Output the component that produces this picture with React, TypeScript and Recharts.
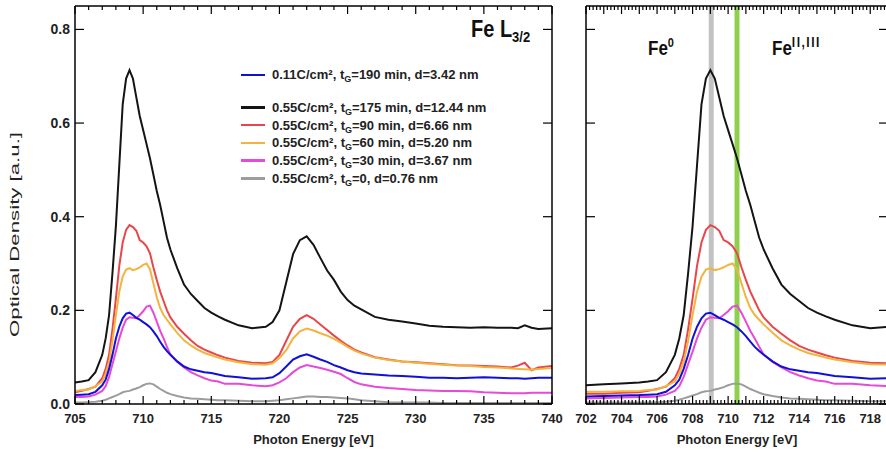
import { LineChart, Line, XAxis, YAxis, ReferenceLine } from 'recharts';

// photon energy grid [eV]
const energy = [
  702, 703, 704, 705, 705.5, 706, 706.5, 707, 707.25, 707.5, 707.75, 708, 708.25, 708.5, 708.75,
  709, 709.25, 709.5, 709.75, 710, 710.25, 710.5, 710.75, 711, 711.25, 711.5, 711.75, 712, 712.5,
  713, 713.5, 714, 714.5, 715, 715.5, 716, 717, 718, 719, 719.5, 720, 720.5, 721, 721.5, 722,
  722.5, 723, 723.5, 724, 724.5, 725, 725.5, 726, 727, 728, 729, 730, 731, 732, 733, 734, 735,
  736, 737, 737.5, 738, 738.5, 739, 740,
];

const t175 = [
  0.04, 0.042, 0.044, 0.046, 0.048, 0.051, 0.068, 0.105, 0.14, 0.19, 0.28, 0.38, 0.51, 0.64, 0.695,
  0.713, 0.695, 0.655, 0.615, 0.585, 0.555, 0.525, 0.49, 0.455, 0.425, 0.39, 0.355, 0.33, 0.29,
  0.255, 0.235, 0.22, 0.205, 0.195, 0.187, 0.18, 0.168, 0.162, 0.165, 0.175, 0.2, 0.26, 0.32, 0.35, 0.358,
  0.34, 0.312, 0.285, 0.265, 0.24, 0.222, 0.21, 0.202, 0.186, 0.18, 0.176, 0.172, 0.167, 0.165, 0.164, 0.163, 0.164,
  0.163, 0.163, 0.162, 0.168, 0.163, 0.16, 0.162,
];

const t90 = [
  0.022, 0.022, 0.024, 0.025, 0.028, 0.032, 0.037, 0.055, 0.075, 0.105, 0.16, 0.225, 0.295, 0.345, 0.372,
  0.382, 0.378, 0.37, 0.35, 0.345, 0.337, 0.322, 0.292, 0.265, 0.24, 0.22, 0.2, 0.185, 0.165,
  0.15, 0.136, 0.124, 0.116, 0.11, 0.104, 0.099, 0.092, 0.088, 0.087, 0.09, 0.105, 0.135, 0.165, 0.182, 0.19,
  0.182, 0.17, 0.158, 0.146, 0.135, 0.125, 0.116, 0.11, 0.1, 0.095, 0.091, 0.089, 0.087, 0.085, 0.083, 0.082, 0.081,
  0.08, 0.078, 0.082, 0.088, 0.072, 0.078, 0.081,
];

const t60 = [
  0.026, 0.026, 0.027, 0.028, 0.03, 0.031, 0.038, 0.048, 0.065, 0.09, 0.135, 0.19, 0.24, 0.272, 0.287,
  0.29, 0.286, 0.288, 0.292, 0.297, 0.3, 0.288, 0.258, 0.228, 0.205, 0.19, 0.18, 0.17, 0.152,
  0.136, 0.125, 0.116, 0.109, 0.104, 0.099, 0.095, 0.089, 0.085, 0.084, 0.087, 0.098, 0.115, 0.14, 0.155, 0.161,
  0.157, 0.151, 0.146, 0.139, 0.131, 0.122, 0.114, 0.108, 0.099, 0.094, 0.091, 0.088, 0.086, 0.084, 0.082, 0.081, 0.079,
  0.078, 0.076, 0.075, 0.074, 0.073, 0.075, 0.077,
];

const t30 = [
  0.012, 0.013, 0.014, 0.015, 0.015, 0.016, 0.02, 0.028, 0.038, 0.058, 0.085, 0.112, 0.14, 0.163, 0.18,
  0.185, 0.184, 0.183, 0.19, 0.198, 0.208, 0.21, 0.195, 0.176, 0.156, 0.14, 0.122, 0.106, 0.09,
  0.078, 0.068, 0.061, 0.055, 0.05, 0.048, 0.043, 0.043, 0.04, 0.038, 0.04, 0.046, 0.055, 0.068, 0.078, 0.083,
  0.08, 0.077, 0.073, 0.069, 0.064, 0.055, 0.047, 0.042, 0.037, 0.034, 0.032, 0.03, 0.029, 0.028, 0.028, 0.027, 0.025,
  0.024, 0.023, 0.023, 0.023, 0.024, 0.024, 0.024,
];

const t0 = [
  0.003, 0.003, 0.003, 0.003, 0.003, 0.004, 0.005, 0.007, 0.009, 0.012, 0.015, 0.018, 0.021, 0.025, 0.027,
  0.028, 0.031, 0.033, 0.036, 0.04, 0.043, 0.044, 0.042, 0.037, 0.032, 0.028, 0.024, 0.021, 0.017,
  0.014, 0.012, 0.011, 0.01, 0.009, 0.008, 0.008, 0.007, 0.006, 0.006, 0.007, 0.008, 0.01, 0.012, 0.014, 0.016,
  0.016, 0.015, 0.015, 0.014, 0.013, 0.012, 0.01, 0.008, 0.006, 0.004, 0.003, 0.003, 0.003, 0.002, 0.002, 0.002, 0.002,
  0.002, 0.002, 0.002, 0.002, 0.002, 0.002, 0.002,
];

const lowDose190 = [
  0.016, 0.017, 0.018, 0.019, 0.02, 0.021, 0.026, 0.04, 0.052, 0.075, 0.105, 0.14, 0.165, 0.183, 0.193,
  0.195, 0.19, 0.184, 0.18, 0.175, 0.17, 0.164, 0.155, 0.145, 0.133, 0.122, 0.113, 0.105, 0.091,
  0.08, 0.074, 0.071, 0.068, 0.066, 0.063, 0.06, 0.057, 0.054, 0.055, 0.057, 0.066, 0.08, 0.095, 0.102, 0.106,
  0.101, 0.095, 0.09, 0.083, 0.078, 0.072, 0.068, 0.065, 0.063, 0.061, 0.06, 0.058, 0.056, 0.056, 0.055, 0.056, 0.057,
  0.056, 0.055, 0.055, 0.054, 0.055, 0.056, 0.056,
];

const leftTickLabels = [705, 710, 715, 720, 725, 730, 735, 740];
const rightTickLabels = [702, 704, 706, 708, 710, 712, 714, 716, 718];
const yTickLabels = [0, 0.2, 0.4, 0.6, 0.8];

// Fe0 and Fe(II,III) marker energies
const fe0Energy = 709.05;
const fe23Energy = 710.5;

const FONT = '"Liberation Sans", Arial, sans-serif';

const series = [
  { key: 'blue', color: '#1010d8', values: lowDose190, dose: '0.11C/cm²', tG: '190 min', d: '3.42 nm' },
  { key: 'black', color: '#141414', values: t175, dose: '0.55C/cm²', tG: '175 min', d: '12.44 nm' },
  { key: 'red', color: '#e8464a', values: t90, dose: '0.55C/cm²', tG: '90 min', d: '6.66 nm' },
  { key: 'orange', color: '#f2b43e', values: t60, dose: '0.55C/cm²', tG: '60 min', d: '5.20 nm' },
  { key: 'magenta', color: '#e64ad8', values: t30, dose: '0.55C/cm²', tG: '30 min', d: '3.67 nm' },
  { key: 'gray', color: '#9c9c9c', values: t0, dose: '0.55C/cm²', tG: '0', d: '0.76 nm' },
];

const drawOrder = ['gray', 'black', 'red', 'orange', 'magenta', 'blue'];

const rows = energy.map((e, i) => {
  const r: Record<string, number> = { e };
  series.forEach((s) => (r[s.key] = s.values[i]));
  return r;
});
const leftRows = rows.filter((r) => r.e >= 705);
const rightRows = rows.filter((r) => r.e <= 719);

function steps(from: number, to: number, step: number) {
  const out: number[] = [];
  for (let v = from; v <= to + 1e-9; v += step) out.push(Math.round(v * 100) / 100);
  return out;
}
const near = (a: number, b: number) => Math.abs(a - b) < 1e-6;
const isMultiple = (v: number, m: number) => near(v / m, Math.round(v / m));

// x ticks drawn inward, dir = 1 for bottom axis, -1 for top axis
function xTick(labels: number[], major: number, dir: number) {
  return (props: any) => {
    const { x, y, payload } = props;
    const v = payload.value as number;
    const len = isMultiple(v, major) ? 8 : 4;
    const showLabel = dir > 0 && labels.some((l) => near(l, v));
    return (
      <g>
        <line x1={x} x2={x} y1={y} y2={y - dir * len} stroke="#000" strokeWidth={1.2} />
        {showLabel && (
          <text x={x} y={y + 19} textAnchor="middle" fontSize={13} fontWeight="bold" fontFamily={FONT} fill="#222">
            {v}
          </text>
        )}
      </g>
    );
  };
}

function yTick(dir: number, withLabel: boolean) {
  return (props: any) => {
    const { x, y, payload } = props;
    return (
      <g>
        <line x1={x} x2={x + dir * 9} y1={y} y2={y} stroke="#000" strokeWidth={1.2} />
        {withLabel && (
          <text x={x - 5} y={y + 5} textAnchor="end" fontSize={14} fontWeight="bold" fontFamily={FONT} fill="#222">
            {(payload.value as number).toFixed(1)}
          </text>
        )}
      </g>
    );
  };
}

function LegendBox() {
  return (
    <div
      style={{
        position: 'absolute',
        left: 241,
        top: 66,
        fontFamily: FONT,
        fontWeight: 'bold',
        fontSize: 13,
        color: '#222',
        pointerEvents: 'none',
      }}
    >
      {series.map((s, i) => (
        <div key={s.key} style={{ display: 'flex', alignItems: 'center', height: 17.7, marginBottom: i === 0 ? 15 : 0, whiteSpace: 'nowrap' }}>
          <span style={{ display: 'inline-block', width: 24, height: 2.5, background: s.color, marginRight: 7 }} />
          <span>
            {s.dose}, t<span style={{ fontSize: 9, position: 'relative', top: 3 }}>G</span>={s.tG}, d={s.d}
          </span>
        </div>
      ))}
    </div>
  );
}

const axisStroke = { stroke: '#000', strokeWidth: 1.5 };

function Lines() {
  return drawOrder.map((k) => {
    const s = series.find((x) => x.key === k)!;
    return (
      <Line
        key={k}
        type="linear"
        dataKey={k}
        stroke={s.color}
        strokeWidth={2}
        dot={false}
        isAnimationActive={false}
      />
    );
  });
}

function Axes({ xDomain, xTicks, labels, major, leftW, rightW, yLabels }: any) {
  return [
    <XAxis
      key="xb"
      dataKey="e"
      type="number"
      domain={xDomain}
      allowDataOverflow
      ticks={xTicks}
      interval={0}
      height={55}
      tickSize={0}
      tickMargin={0}
      axisLine={axisStroke}
      tickLine={false}
      tick={xTick(labels, major, 1)}
    />,
    <XAxis
      key="xt"
      xAxisId="top"
      orientation="top"
      dataKey="e"
      type="number"
      domain={xDomain}
      allowDataOverflow
      ticks={xTicks}
      interval={0}
      height={6}
      tickSize={0}
      tickMargin={0}
      axisLine={axisStroke}
      tickLine={false}
      tick={xTick(labels, major, -1)}
    />,
    <YAxis
      key="yl"
      type="number"
      domain={[0, 0.85]}
      allowDataOverflow
      ticks={yTickLabels}
      interval={0}
      width={leftW}
      tickSize={0}
      tickMargin={0}
      axisLine={axisStroke}
      tickLine={false}
      tick={yTick(1, yLabels)}
    />,
    <YAxis
      key="yr"
      yAxisId="r"
      orientation="right"
      type="number"
      domain={[0, 0.85]}
      allowDataOverflow
      ticks={yTickLabels}
      interval={0}
      width={rightW}
      tickSize={0}
      tickMargin={0}
      axisLine={axisStroke}
      tickLine={false}
      tick={yTick(-1, false)}
    />,
  ];
}

const noMargin = { top: 0, right: 0, bottom: 0, left: 0 };
const rightPlotMargin = { top: 6, right: 12, bottom: 55, left: 26 };

export default function App() {
  return (
    <div style={{ position: 'absolute', left: 0, top: 0, width: 886, height: 459, overflow: 'hidden', background: '#fff' }}>
      <div style={{ position: 'absolute', left: 0, top: 0 }}>
        <LineChart width={580} height={459} data={leftRows} margin={noMargin}>
          {Axes({ xDomain: [705, 740], xTicks: steps(705, 740, 1), labels: leftTickLabels, major: 5, leftW: 75, rightW: 28, yLabels: true })}
          {Lines()}
        </LineChart>
      </div>
      {/* marker bands sit underneath the spectra */}
      <div style={{ position: 'absolute', left: 560, top: 0 }}>
        <LineChart width={340} height={459} data={rightRows} margin={rightPlotMargin}>
          <XAxis dataKey="e" type="number" domain={[702, 719]} allowDataOverflow hide />
          <YAxis type="number" domain={[0, 0.85]} allowDataOverflow hide />
          <ReferenceLine x={fe0Energy} stroke="#c2c2c2" strokeWidth={5} />
          <ReferenceLine x={fe23Energy} stroke="#8dd04e" strokeWidth={5} />
        </LineChart>
      </div>
      <div style={{ position: 'absolute', left: 560, top: 0 }}>
        <LineChart width={340} height={459} data={rightRows} margin={noMargin}>
          {Axes({ xDomain: [702, 719], xTicks: steps(702, 719, 0.2), labels: rightTickLabels, major: 1, leftW: 26, rightW: 12, yLabels: false })}
          {Lines()}
        </LineChart>
      </div>
      <LegendBox />
      <svg width={886} height={459} style={{ position: 'absolute', left: 0, top: 0, pointerEvents: 'none' }} fontFamily={FONT}>
        <text transform="translate(471,37) scale(1,1.15)" fontSize={20} fontWeight="bold" fill="#111">
          Fe L<tspan fontSize={13} dy={4}>3/2</tspan>
        </text>
        <text transform="translate(648,55) scale(1,1.2)" fontSize={17} fontWeight="bold" fill="#111">
          Fe<tspan fontSize={11} dy={-7}>0</tspan>
        </text>
        <text transform="translate(772,55) scale(1,1.2)" fontSize={17} fontWeight="bold" fill="#111">
          Fe<tspan fontSize={12} dy={-7} letterSpacing={1.5}>II,III</tspan>
        </text>
        <text
          transform="translate(19,234.5) rotate(-90)"
          textAnchor="middle"
          fontSize={12.5}
          textLength={205}
          lengthAdjust="spacingAndGlyphs"
          fill="#222"
        >
          Optical Density [a.u.]
        </text>
        <text x={313.5} y={444} textAnchor="middle" fontSize={13} fontWeight="bold" fill="#222">
          Photon Energy [eV]
        </text>
        <text x={737} y={444} textAnchor="middle" fontSize={13} fontWeight="bold" fill="#222">
          Photon Energy [eV]
        </text>
      </svg>
    </div>
  );
}
